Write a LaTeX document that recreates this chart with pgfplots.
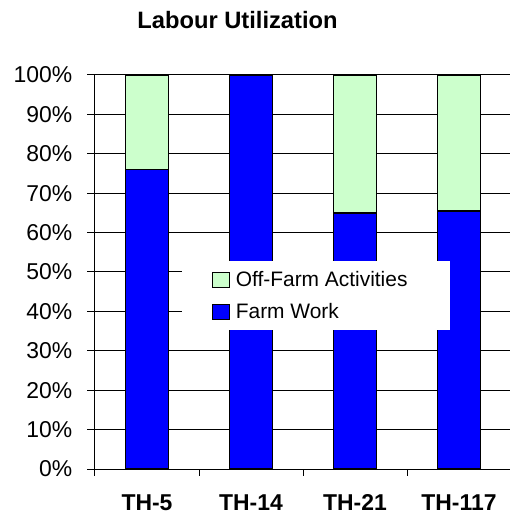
\documentclass[border=0pt]{standalone}
\usepackage{fontspec}
\setmainfont{Liberation Sans}
\usepackage{pgfplots}
\pgfplotsset{compat=1.18}
\definecolor{offgreen}{HTML}{CCFFCC}
\definecolor{farmblue}{HTML}{0000FF}
\pgfplotsset{
  mylegend/.style={legend image code/.code={
    \path[draw=none, fill=none] (-30bp,-16bp) rectangle (17bp,16bp);
    \draw[##1, draw=black, line width=1.3bp] (0bp,-7.5bp) rectangle (17bp,7.5bp);}}
}
\begin{document}
\begin{tikzpicture}
\begin{axis}[
  scale only axis, width=416bp, height=394bp,
  xmin=-0.5, xmax=3.5, ymin=0, ymax=100,
  ybar stacked, bar width=43bp,
  xtick={0,1,2,3}, xticklabels={TH-5,TH-14,TH-21,TH-117},
  minor xtick={-0.5,0.5,1.5,2.5,3.5},
  ytick={0,10,...,100},
  yticklabel={\pgfmathprintnumber{\tick}\%},
  /pgf/number format/assume math mode=true,
  axis x line*=bottom, axis y line*=left,
  axis line style={-, black, line width=1bp},
  tick align=outside, major tick length=7.5bp, minor tick length=7bp,
  tick style={black, line width=1bp},
  major x tick style={draw=none},
  ymajorgrids, grid style={black, line width=1bp},
  yticklabel style={font=\fontsize{23}{26}\selectfont, inner sep=0pt, xshift=-15bp},
  xticklabel style={font=\fontsize{23}{26}\selectfont\bfseries, inner sep=0pt, yshift=-18bp},
  reverse legend,
  legend cell align=left,
  legend style={at={(rel axis cs:0.2091,0.5279)}, anchor=north west,
    draw=none, fill=white, inner xsep=0pt, inner ysep=2.5bp,
    nodes={inner sep=0pt}, column sep=6bp, row sep=0pt,
    font=\fontsize{21}{24}\selectfont},
]
\addplot[fill=farmblue, draw=black, line width=1.3bp, mylegend]
  coordinates {(0,76) (1,100) (2,65) (3,65.5)};
\addlegendentry{\makebox[214bp][l]{Farm Work}}
\addplot[fill=offgreen, draw=black, line width=1.3bp, mylegend]
  coordinates {(0,24) (1,0) (2,35) (3,34.5)};
\addlegendentry{\makebox[214bp][l]{Off-Farm Activities}}
\coordinate (o) at (rel axis cs:0,0);
\coordinate (t) at (rel axis cs:1,1);
\coordinate (tl) at (rel axis cs:0,1);
\end{axis}
\node[anchor=base, font=\fontsize{23.8}{27}\selectfont\bfseries] at ([xshift=142.5bp, yshift=46bp]tl) {Labour Utilization};
\pgfresetboundingbox
\path[use as bounding box] ([shift={(-95bp,-52bp)}]o) rectangle ([shift={(-1bp,75bp)}]t);
\end{tikzpicture}
\end{document}
